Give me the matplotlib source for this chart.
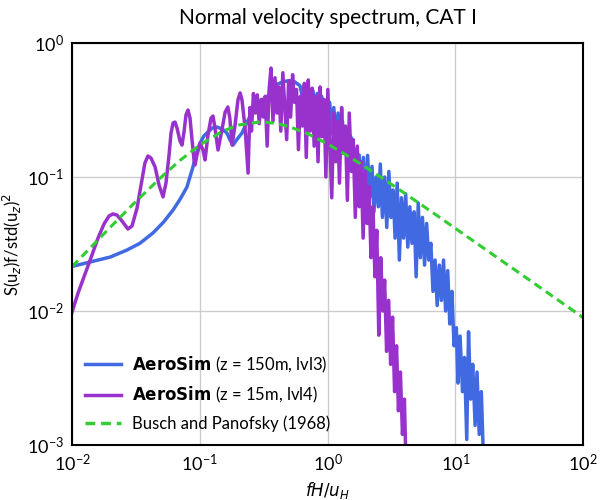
import numpy as np
import matplotlib
matplotlib.use('Agg')
import matplotlib.pyplot as plt

plt.rcParams['font.family'] = ['Lato', 'DejaVu Sans']

# AeroSim, z = 150m (lvl3)
freq_150 = [0.0100, 0.0146, 0.0200, 0.0269, 0.034, 0.0430, 0.052, 0.0618, 0.070, 0.0794,
            0.0885, 0.094, 0.1005, 0.108, 0.116, 0.125, 0.1365, 0.150, 0.163, 0.172,
            0.182, 0.195, 0.214, 0.239, 0.260, 0.280, 0.300, 0.336, 0.370, 0.402,
            0.450, 0.508, 0.550, 0.609,
            0.635, 0.66, 0.685, 0.71, 0.74, 0.77, 0.80, 0.83, 0.86, 0.90,
            0.93, 0.97, 1.0, 1.04, 1.08, 1.12, 1.17, 1.21, 1.26, 1.31,
            1.36, 1.41, 1.47, 1.52, 1.58, 1.64, 1.71, 1.77, 1.84, 1.91,
            1.99, 2.06, 2.14, 2.23, 2.31, 2.40, 2.50, 2.59, 2.69, 2.80,
            2.91, 3.02, 3.14, 3.26, 3.38, 3.51, 3.65, 3.79, 3.94, 4.09,
            4.25, 4.41, 4.58, 4.76, 4.94, 5.13, 5.33, 5.54, 5.75, 5.97,
            6.20, 6.44, 6.69, 6.95, 7.22, 7.50, 7.79, 8.09, 8.40, 8.73,
            9.06, 9.41, 9.78, 10.2, 10.5, 10.9, 11.4, 11.8, 12.3, 12.7,
            13.2, 13.7, 14.3, 14.8, 15.4, 16.0, 16.6, 17.2]
spec_150 = [0.0215, 0.0235, 0.0253, 0.0285, 0.032, 0.0382, 0.046, 0.0567, 0.068, 0.0842,
            0.119, 0.150, 0.179, 0.203, 0.217, 0.232, 0.236, 0.228, 0.213, 0.190,
            0.173, 0.190, 0.213, 0.266, 0.310, 0.345, 0.370, 0.395, 0.450, 0.490,
            0.515, 0.525, 0.515, 0.480,
            0.40, 0.48, 0.35, 0.46, 0.33, 0.44, 0.30, 0.42, 0.28, 0.40,
            0.26, 0.37, 0.24, 0.36, 0.21, 0.33, 0.19, 0.30, 0.17, 0.26,
            0.15, 0.22, 0.13, 0.20, 0.11, 0.16, 0.09, 0.146, 0.075, 0.14,
            0.065, 0.145, 0.07, 0.12, 0.055, 0.10, 0.06, 0.125, 0.05, 0.10,
            0.042, 0.11, 0.05, 0.08, 0.035, 0.09, 0.024, 0.07, 0.035, 0.075,
            0.03, 0.06, 0.032, 0.055, 0.018, 0.064, 0.025, 0.05, 0.022, 0.045,
            0.024, 0.032, 0.014, 0.024, 0.011, 0.022, 0.012, 0.024, 0.010, 0.020,
            0.008, 0.014, 0.0055, 0.0075, 0.0029, 0.0065, 0.0025, 0.0045, 0.0011, 0.007,
            0.0022, 0.004, 0.0014, 0.0035, 0.0012, 0.0025, 0.0008, 0.0007]

# AeroSim, z = 15m (lvl4)
freq_15 = [0.0100, 0.01115, 0.01265, 0.01434, 0.0160, 0.0178, 0.0195, 0.02094, 0.0225, 0.0246,
           0.0274, 0.0295, 0.0323, 0.0353, 0.0372, 0.0393, 0.0415, 0.0447, 0.0480, 0.0516,
           0.0544, 0.0575, 0.0596, 0.0618, 0.0640, 0.0664, 0.0700, 0.0726, 0.0753, 0.0780,
           0.0809, 0.0839, 0.0870, 0.0902, 0.0918, 0.0951, 0.1005, 0.106, 0.110, 0.116,
           0.1225, 0.127, 0.1315, 0.139, 0.144, 0.149, 0.158, 0.166, 0.172, 0.179,
           0.189, 0.199, 0.207, 0.214, 0.226, 0.239,
           0.247, 0.254, 0.263, 0.272, 0.282, 0.292, 0.303, 0.314, 0.325, 0.337,
           0.349, 0.361, 0.374, 0.388, 0.402, 0.416, 0.431, 0.447, 0.463, 0.479,
           0.496, 0.514, 0.533, 0.552, 0.572, 0.592, 0.614, 0.636, 0.659, 0.682,
           0.707, 0.732, 0.759, 0.786, 0.814, 0.843, 0.874, 0.905, 0.938, 0.971,
           1.006, 1.042, 1.08, 1.12, 1.16, 1.20, 1.24, 1.29, 1.33, 1.38,
           1.43, 1.48, 1.54, 1.59, 1.65, 1.71, 1.77, 1.83, 1.90, 1.97,
           2.04, 2.11, 2.19, 2.27, 2.35, 2.43, 2.52, 2.61, 2.71, 2.80,
           2.90, 3.01, 3.12, 3.23, 3.35, 3.47, 3.59, 3.72, 3.86, 4.0, 4.1]
spec_15 = [0.0098, 0.0136, 0.0189, 0.0262, 0.0351, 0.0446, 0.0512, 0.0530, 0.0520, 0.0470,
           0.0409, 0.0431, 0.0587, 0.0950, 0.127, 0.1435, 0.1386, 0.1188, 0.0871, 0.0710,
           0.0902, 0.146, 0.213, 0.253, 0.257, 0.232, 0.186, 0.173, 0.217, 0.290,
           0.316, 0.275, 0.189, 0.134, 0.123, 0.146, 0.179, 0.159, 0.134, 0.206,
           0.275, 0.285, 0.232, 0.159, 0.189, 0.224, 0.305, 0.333, 0.275, 0.173,
           0.244, 0.376, 0.424, 0.376, 0.236, 0.107,
           0.33, 0.22, 0.42, 0.30, 0.41, 0.25, 0.38, 0.28, 0.40, 0.17,
           0.45, 0.65, 0.26, 0.55, 0.30, 0.47, 0.22, 0.60, 0.33, 0.19,
           0.52, 0.28, 0.58, 0.36, 0.45, 0.16, 0.40, 0.24, 0.50, 0.14,
           0.53, 0.22, 0.46, 0.17, 0.40, 0.13, 0.47, 0.20, 0.38, 0.10,
           0.45, 0.18, 0.07, 0.30, 0.13, 0.26, 0.09, 0.33, 0.15, 0.24,
           0.067, 0.30, 0.11, 0.19, 0.05, 0.17, 0.06, 0.13, 0.035, 0.11,
           0.045, 0.085, 0.025, 0.06, 0.018, 0.040, 0.0066, 0.025, 0.010, 0.017,
           0.0050, 0.012, 0.0040, 0.009, 0.0025, 0.0055, 0.0018, 0.0035, 0.0012, 0.0022, 0.0008]

# Busch and Panofsky (1968)
freq_bp = [0.01, 0.02, 0.03, 0.05, 0.07, 0.1, 0.15, 0.2, 0.3, 0.4, 0.5, 0.7,
           1.0, 1.5, 2.0, 3.0, 5.0, 7.0, 10.0, 20.0, 30.0, 50.0, 70.0, 100.0]
spec_bp = [0.0214, 0.0423, 0.0625, 0.0999, 0.1329, 0.1733, 0.219, 0.244, 0.258, 0.2512, 0.238, 0.2102,
           0.1768, 0.1406, 0.118, 0.0913, 0.0655, 0.0525, 0.0414, 0.0261, 0.01995, 0.0142, 0.01134, 0.00894]

fig = plt.figure(figsize=(6, 5), dpi=100)
ax = fig.add_axes([0.12, 0.11, 0.8517, 0.804])

ax.loglog(freq_150, spec_150, color='#4169e1', lw=2.5, label=r'$\bf{AeroSim}$ (z = 150m, lvl3)')
ax.loglog(freq_15, spec_15, color='#9932cc', lw=2.5, label=r'$\bf{AeroSim}$ (z = 15m, lvl4)')
ax.loglog(freq_bp, spec_bp, color='#32cd32', lw=2.2, linestyle=(0, (2.8, 1.7)),
          label='Busch and Panofsky (1968)')

ax.set_xlim(1e-2, 1e2)
ax.set_ylim(1e-3, 1e0)
ax.grid(True, which='major', color='#cccccc', lw=1)
ax.set_axisbelow(True)
ax.tick_params(which='both', length=0, labelsize=13, pad=6)
for s in ax.spines.values():
    s.set_color('black')
    s.set_linewidth(1.5)

ax.set_xlabel('$fH/u_H$', fontsize=12)
ax.set_ylabel('S(u$_z$)f/std(u$_z$)$^2$', fontsize=12, labelpad=2)
ax.set_title('Normal velocity spectrum, CAT I', fontsize=15, pad=14)
leg = ax.legend(loc='lower left', frameon=False, fontsize=12, handlelength=2.15,
                handletextpad=0.65, labelspacing=0.62, bbox_to_anchor=(-0.004, -0.005))
for line in leg.get_lines():
    line.set_linewidth(2.5)

plt.savefig('out.png')
plt.close()
